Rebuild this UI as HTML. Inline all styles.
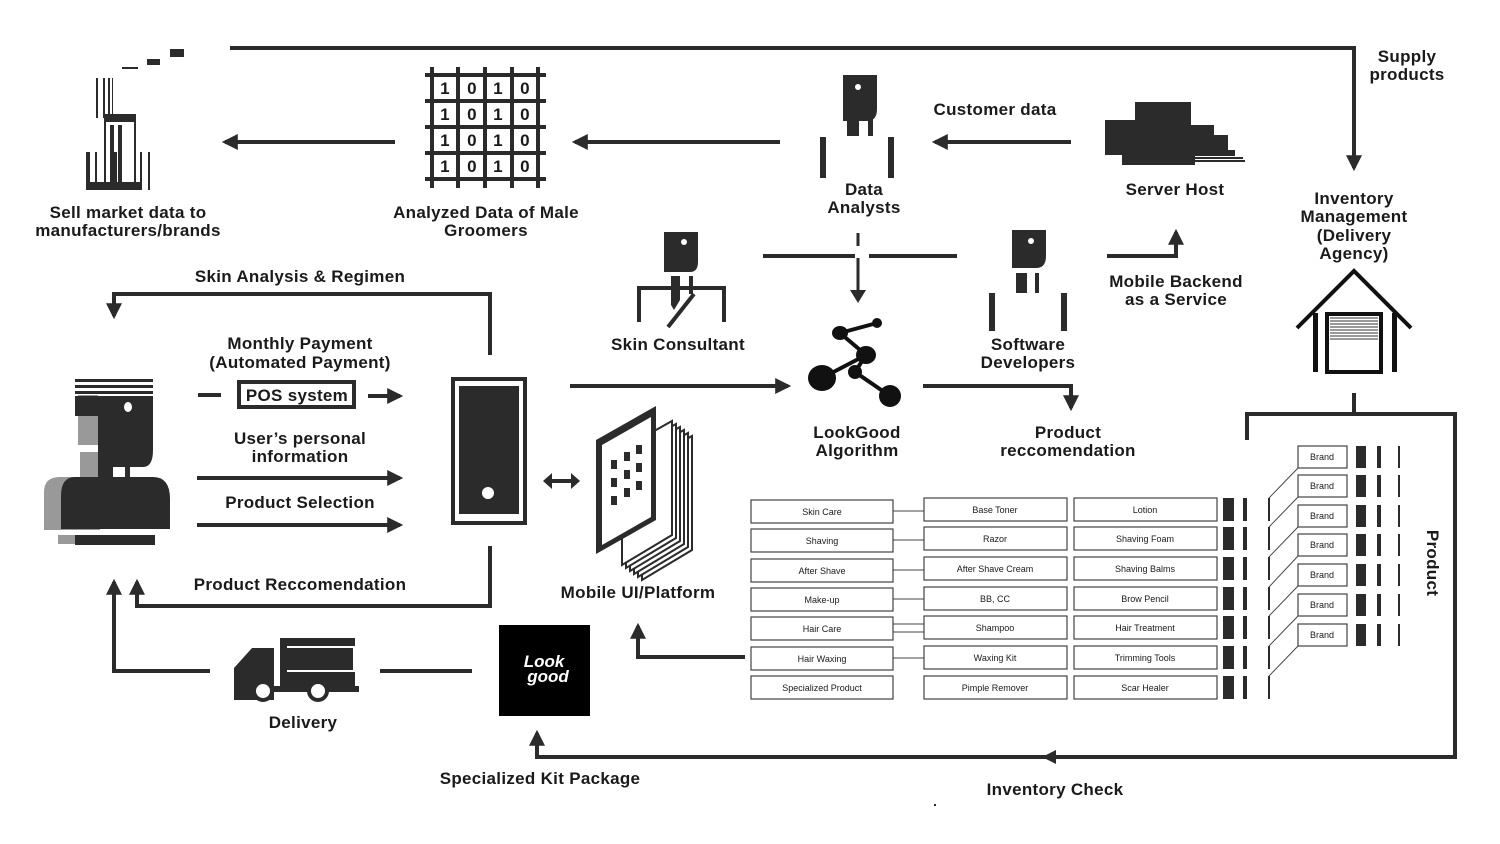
<!DOCTYPE html>
<html><head><meta charset="utf-8"><style>
html,body{margin:0;padding:0;background:#fff;}
svg{display:block;}
text{font-family:"Liberation Sans",Arial,sans-serif;fill:#1a1a1a;}
.l{font-size:17px;font-weight:bold;text-anchor:middle;letter-spacing:0.3px;}
.s{font-size:9px;text-anchor:middle;}
.ln{stroke:#2b2b2b;stroke-width:4;fill:none;}
.bx{fill:#fff;stroke:#444;stroke-width:1.2;}
</style></head><body>
<svg width="1500" height="844" viewBox="0 0 1500 844" xmlns="http://www.w3.org/2000/svg">
<defs>
<marker id="a" viewBox="0 0 10 10" refX="8" refY="5" markerWidth="4" markerHeight="4" orient="auto"><path d="M0,0L10,5L0,10z" fill="#2b2b2b"/></marker>
</defs>
<g fill="#2b2b2b">
<polyline class="ln" points="230,48 1354,48 1354,168" marker-end="url(#a)"/>
<text class="l" x="1407" y="62">Supply</text><text class="l" x="1407" y="80">products</text>
<text class="l" x="1354" y="204">Inventory</text><text class="l" x="1354" y="222">Management</text>
<text class="l" x="1354" y="241">(Delivery</text><text class="l" x="1354" y="259">Agency)</text>
<polyline points="1297,328 1354,271 1411,328" fill="none" stroke="#111" stroke-width="4"/>
<rect x="1313" y="313" width="5" height="59" fill="#111"/><rect x="1392" y="313" width="5" height="59" fill="#111"/>
<rect x="1327" y="314" width="54" height="58" fill="#fff" stroke="#111" stroke-width="4"/>
<g stroke="#333" stroke-width="1"><line x1="1330" y1="318" x2="1378" y2="318"/><line x1="1330" y1="321" x2="1378" y2="321"/><line x1="1330" y1="324" x2="1378" y2="324"/><line x1="1330" y1="327" x2="1378" y2="327"/><line x1="1330" y1="330" x2="1378" y2="330"/><line x1="1330" y1="333" x2="1378" y2="333"/><line x1="1330" y1="336" x2="1378" y2="336"/><line x1="1330" y1="339" x2="1378" y2="339"/></g>
<polyline class="ln" points="1354,393 1354,414"/>
<polyline class="ln" points="1247,440 1247,414 1455,414 1455,757 537,757 537,733" marker-end="url(#a)"/>
<path d="M1042,757l14,-7v14z"/>
<text class="l" x="1055" y="795">Inventory Check</text>
<text class="l" transform="translate(1427,563) rotate(90)">Product</text>

<rect x="170" y="49" width="14" height="8"/><rect x="147" y="59" width="13" height="6"/><rect x="122" y="67" width="16" height="2"/>
<rect x="104" y="114" width="32" height="8"/>
<g fill="none" stroke="#2b2b2b" stroke-width="2"><rect x="105" y="120" width="30" height="65"/></g>
<rect x="86" y="152" width="4" height="38"/><rect x="95" y="152" width="2" height="38"/><rect x="114" y="152" width="3" height="38"/>
<rect x="140" y="152" width="2" height="38"/><rect x="148" y="152" width="2" height="38"/><rect x="96" y="78" width="2" height="40"/><rect x="103" y="78" width="2" height="40"/><rect x="108" y="78" width="2" height="40"/><rect x="112" y="78" width="1" height="40"/>
<rect x="86" y="182" width="56" height="8"/><rect x="110" y="125" width="4" height="60"/><rect x="118" y="125" width="4" height="60"/>
<text class="l" x="128" y="218">Sell market data to</text><text class="l" x="128" y="236">manufacturers/brands</text>
<line class="ln" x1="395" y1="142" x2="225" y2="142" marker-end="url(#a)"/>
<g stroke="#2b2b2b" stroke-width="4"><line x1="432" y1="67" x2="432" y2="188"/><line x1="458" y1="67" x2="458" y2="188"/><line x1="485" y1="67" x2="485" y2="188"/><line x1="512" y1="67" x2="512" y2="188"/><line x1="538" y1="67" x2="538" y2="188"/>
<line x1="425" y1="75" x2="546" y2="75"/><line x1="425" y1="101" x2="546" y2="101"/><line x1="425" y1="127" x2="546" y2="127"/><line x1="425" y1="153" x2="546" y2="153"/><line x1="425" y1="179" x2="546" y2="179"/></g>
<g><text class="l" x="445" y="94">1</text><text class="l" x="472" y="94">0</text><text class="l" x="498" y="94">1</text><text class="l" x="525" y="94">0</text>
<text class="l" x="445" y="120">1</text><text class="l" x="472" y="120">0</text><text class="l" x="498" y="120">1</text><text class="l" x="525" y="120">0</text>
<text class="l" x="445" y="146">1</text><text class="l" x="472" y="146">0</text><text class="l" x="498" y="146">1</text><text class="l" x="525" y="146">0</text>
<text class="l" x="445" y="172">1</text><text class="l" x="472" y="172">0</text><text class="l" x="498" y="172">1</text><text class="l" x="525" y="172">0</text></g>
<text class="l" x="486" y="218">Analyzed Data of Male</text><text class="l" x="486" y="236">Groomers</text>
<line class="ln" x1="780" y1="142" x2="575" y2="142" marker-end="url(#a)"/>
<path d="M843,75h34v34q0,12 -10,12h-24z"/><circle cx="858" cy="87" r="3" fill="#fff"/>
<rect x="847" y="117" width="12" height="19"/><rect x="868" y="117" width="5" height="19"/>
<rect x="820" y="137" width="6" height="41"/><rect x="888" y="137" width="6" height="41"/>
<text class="l" x="864" y="195">Data</text><text class="l" x="864" y="213">Analysts</text>
<line class="ln" x1="1071" y1="142" x2="935" y2="142" marker-end="url(#a)"/>
<text class="l" x="995" y="115">Customer data</text>
<rect x="1135" y="102" width="56" height="25"/><rect x="1105" y="120" width="86" height="35"/><rect x="1124" y="125" width="90" height="30"/><rect x="1185" y="135" width="43" height="20"/><rect x="1122" y="150" width="73" height="15"/><rect x="1195" y="150" width="40" height="6"/><rect x="1195" y="157" width="48" height="2"/><rect x="1195" y="160" width="50" height="2"/>
<text class="l" x="1175" y="195">Server Host</text>
<path d="M664,232h34v30q0,10 -8,10h-26z"/><circle cx="684" cy="242" r="3" fill="#fff"/>
<path d="M671,276h9v24l-6,10l-3,-5z"/><rect x="689" y="276" width="4" height="18"/>
<polyline points="639,322 639,288 724,288 724,322" fill="none" stroke="#2b2b2b" stroke-width="4"/>
<line x1="694" y1="294" x2="668" y2="327" stroke="#2b2b2b" stroke-width="4"/>
<text class="l" x="678" y="350">Skin Consultant</text>
<line class="ln" x1="763" y1="256" x2="855" y2="256"/><line class="ln" x1="869" y1="256" x2="957" y2="256"/>
<line x1="858" y1="233" x2="858" y2="246" stroke="#2b2b2b" stroke-width="3"/>
<line x1="858" y1="258" x2="858" y2="296" stroke="#2b2b2b" stroke-width="3"/><path d="M850,290h16l-8,13z"/>
<path d="M1012,230h34v26q0,12 -10,12h-24z"/><circle cx="1031" cy="241" r="3" fill="#fff"/>
<rect x="1016" y="273" width="11" height="20"/><rect x="1035" y="273" width="4" height="20"/>
<rect x="989" y="293" width="6" height="38"/><rect x="1061" y="293" width="6" height="38"/>
<text class="l" x="1028" y="350">Software</text><text class="l" x="1028" y="368">Developers</text>
<polyline class="ln" points="1107,256 1176,256 1176,232" marker-end="url(#a)"/>
<text class="l" x="1176" y="287">Mobile Backend</text><text class="l" x="1176" y="305">as a Service</text>
<g stroke="#111" stroke-width="4"><line x1="877" y1="323" x2="840" y2="333"/><line x1="840" y1="333" x2="866" y2="355"/><line x1="866" y1="355" x2="822" y2="378"/><line x1="866" y1="355" x2="855" y2="372"/><line x1="855" y1="372" x2="890" y2="396"/></g>
<g fill="#111"><circle cx="877" cy="323" r="5"/><ellipse cx="840" cy="333" rx="8" ry="7"/><ellipse cx="866" cy="355" rx="10" ry="9"/><ellipse cx="822" cy="378" rx="14" ry="13"/><circle cx="855" cy="372" r="7"/><ellipse cx="890" cy="396" rx="11" ry="11"/></g>
<text class="l" x="857" y="438">LookGood</text><text class="l" x="857" y="456">Algorithm</text>
<line class="ln" x1="570" y1="386" x2="788" y2="386" marker-end="url(#a)"/>
<polyline class="ln" points="923,386 1071,386 1071,408" marker-end="url(#a)"/>
<text class="l" x="1068" y="438">Product</text><text class="l" x="1068" y="456">reccomendation</text>

<rect x="78" y="395" width="20" height="50" fill="#999"/><rect x="80" y="452" width="18" height="30" fill="#999"/>
<path d="M60,477h40v53h-56v-38q0,-15 16,-15z" fill="#999"/><rect x="58" y="535" width="18" height="9" fill="#999"/>
<rect x="75" y="379" width="78" height="3"/><rect x="75" y="385" width="78" height="3"/><rect x="75" y="391" width="78" height="3"/>
<path d="M98,396h55v54q0,17 -10,17h-45z"/><rect x="75" y="396" width="23" height="20" fill="#2b2b2b"/><ellipse cx="128" cy="407" rx="4" ry="5" fill="#fff"/>
<rect x="98" y="452" width="15" height="30"/><rect x="125" y="452" width="5" height="25"/>
<path d="M75,477h78q17,0 17,22v30h-109v-33q0,-19 14,-19z"/><rect x="75" y="535" width="80" height="10"/>
<line class="ln" x1="198" y1="395" x2="221" y2="395"/>
<rect x="239" y="382" width="115" height="25" fill="#fff" stroke="#2b2b2b" stroke-width="4"/>
<text class="l" x="297" y="401">POS system</text>
<line class="ln" x1="368" y1="396" x2="400" y2="396" marker-end="url(#a)"/>
<text class="l" x="300" y="349">Monthly Payment</text><text class="l" x="300" y="368">(Automated Payment)</text>
<text class="l" x="300" y="444">User’s personal</text><text class="l" x="300" y="462">information</text>
<line class="ln" x1="197" y1="478" x2="400" y2="478" marker-end="url(#a)"/>
<text class="l" x="300" y="508">Product Selection</text>
<line class="ln" x1="197" y1="525" x2="400" y2="525" marker-end="url(#a)"/>
<text class="l" x="300" y="282">Skin Analysis &amp; Regimen</text>
<polyline class="ln" points="490,355 490,294 114,294 114,316" marker-end="url(#a)"/>
<text class="l" x="300" y="590">Product Reccomendation</text>
<polyline class="ln" points="490,546 490,606 137,606 137,582" marker-end="url(#a)"/>
<polyline class="ln" points="210,671 114,671 114,582" marker-end="url(#a)"/>
<rect x="451" y="377" width="76" height="148"/><rect x="455" y="381" width="68" height="140" fill="#fff"/><rect x="459" y="386" width="60" height="128"/>
<circle cx="488" cy="493" r="6" fill="#fff"/>
<line x1="548" y1="481" x2="575" y2="481" stroke="#2b2b2b" stroke-width="4"/><path d="M543,481l9,-8v16z M580,481l-9,-8v16z"/>
<g fill="#fff" stroke="#2b2b2b" stroke-width="2">
<path d="M604,446l50,-28v114l-50,30z" transform="translate(38,18)"/>
<path d="M604,446l50,-28v114l-50,30z" transform="translate(34,15)"/>
<path d="M604,446l50,-28v114l-50,30z" transform="translate(30,12)"/>
<path d="M604,446l50,-28v114l-50,30z" transform="translate(26,9)"/>
<path d="M604,446l50,-28v114l-50,30z" transform="translate(22,6)"/>
<path d="M604,446l50,-28v114l-50,30z" transform="translate(18,3)"/>
</g>
<path d="M596,440l60,-34v114l-60,34z" fill="#2b2b2b"/><path d="M602,445l49,-28v100l-49,28z" fill="#fff"/>
<g><rect x="611" y="460" width="6" height="9"/><rect x="624" y="452" width="6" height="9"/><rect x="636" y="445" width="6" height="9"/><rect x="611" y="478" width="6" height="9"/><rect x="624" y="470" width="6" height="9"/><rect x="636" y="463" width="6" height="9"/><rect x="611" y="496" width="6" height="9"/><rect x="624" y="488" width="6" height="9"/><rect x="636" y="481" width="6" height="9"/></g>
<text class="l" x="638" y="598">Mobile UI/Platform</text>
<polyline class="ln" points="745,657 638,657 638,626" marker-end="url(#a)"/>
<path d="M234,668l18,-20h22v52h-40z"/><rect x="280" y="638" width="75" height="48"/><rect x="287" y="646" width="68" height="26" fill="#fff"/><rect x="287" y="648" width="66" height="22" fill="#2b2b2b"/>
<rect x="234" y="686" width="125" height="6"/>
<circle cx="263" cy="691" r="9" fill="#fff" stroke="#2b2b2b" stroke-width="4"/><circle cx="318" cy="691" r="9" fill="#fff" stroke="#2b2b2b" stroke-width="4"/>
<text class="l" x="303" y="728">Delivery</text>
<line class="ln" x1="380" y1="671" x2="472" y2="671"/>
<rect x="499" y="625" width="91" height="91" fill="#000"/>
<text x="544" y="667" font-family="Liberation Serif,serif" font-style="italic" font-weight="bold" font-size="17" text-anchor="middle" style="fill:#fff">Look</text>
<text x="548" y="682" font-family="Liberation Serif,serif" font-style="italic" font-weight="bold" font-size="17" text-anchor="middle" style="fill:#fff">good</text>
<text class="l" x="540" y="784">Specialized Kit Package</text>

<g>
<rect class="bx" x="751" y="500" width="142" height="23"/><rect class="bx" x="751" y="529" width="142" height="23"/><rect class="bx" x="751" y="559" width="142" height="23"/><rect class="bx" x="751" y="588" width="142" height="23"/><rect class="bx" x="751" y="617" width="142" height="23"/><rect class="bx" x="751" y="647" width="142" height="23"/><rect class="bx" x="751" y="676" width="142" height="23"/>
<rect class="bx" x="924" y="498" width="143" height="23"/><rect class="bx" x="924" y="527" width="143" height="23"/><rect class="bx" x="924" y="557" width="143" height="23"/><rect class="bx" x="924" y="587" width="143" height="23"/><rect class="bx" x="924" y="616" width="143" height="23"/><rect class="bx" x="924" y="646" width="143" height="23"/><rect class="bx" x="924" y="676" width="143" height="23"/>
<rect class="bx" x="1074" y="498" width="143" height="23"/><rect class="bx" x="1074" y="527" width="143" height="23"/><rect class="bx" x="1074" y="557" width="143" height="23"/><rect class="bx" x="1074" y="587" width="143" height="23"/><rect class="bx" x="1074" y="616" width="143" height="23"/><rect class="bx" x="1074" y="646" width="143" height="23"/><rect class="bx" x="1074" y="676" width="143" height="23"/>
<g stroke="#444" stroke-width="1"><line x1="893" y1="511" x2="924" y2="511"/><line x1="893" y1="540" x2="924" y2="540"/><line x1="893" y1="570" x2="924" y2="570"/><line x1="893" y1="599" x2="924" y2="599"/><line x1="893" y1="624" x2="924" y2="624"/><line x1="893" y1="632" x2="924" y2="632"/><line x1="893" y1="658" x2="924" y2="658"/></g>
<text class="s" x="822" y="515">Skin Care</text><text class="s" x="822" y="544">Shaving</text><text class="s" x="822" y="574">After Shave</text><text class="s" x="822" y="603">Make-up</text><text class="s" x="822" y="632">Hair Care</text><text class="s" x="822" y="662">Hair Waxing</text><text class="s" x="822" y="691">Specialized Product</text>
<text class="s" x="995" y="513">Base Toner</text><text class="s" x="995" y="542">Razor</text><text class="s" x="995" y="572">After Shave Cream</text><text class="s" x="995" y="602">BB, CC</text><text class="s" x="995" y="631">Shampoo</text><text class="s" x="995" y="661">Waxing Kit</text><text class="s" x="995" y="691">Pimple Remover</text>
<text class="s" x="1145" y="513">Lotion</text><text class="s" x="1145" y="542">Shaving Foam</text><text class="s" x="1145" y="572">Shaving Balms</text><text class="s" x="1145" y="602">Brow Pencil</text><text class="s" x="1145" y="631">Hair Treatment</text><text class="s" x="1145" y="661">Trimming Tools</text><text class="s" x="1145" y="691">Scar Healer</text>
</g>
<g>
<rect x="1223" y="498" width="11" height="23"/><rect x="1223" y="527" width="11" height="23"/><rect x="1223" y="557" width="11" height="23"/><rect x="1223" y="587" width="11" height="23"/><rect x="1223" y="616" width="11" height="23"/><rect x="1223" y="646" width="11" height="23"/><rect x="1223" y="676" width="11" height="23"/>
<rect x="1243" y="498" width="4" height="23"/><rect x="1243" y="527" width="4" height="23"/><rect x="1243" y="557" width="4" height="23"/><rect x="1243" y="587" width="4" height="23"/><rect x="1243" y="616" width="4" height="23"/><rect x="1243" y="646" width="4" height="23"/><rect x="1243" y="676" width="4" height="23"/>
<rect x="1268" y="498" width="2" height="23"/><rect x="1268" y="527" width="2" height="23"/><rect x="1268" y="557" width="2" height="23"/><rect x="1268" y="587" width="2" height="23"/><rect x="1268" y="616" width="2" height="23"/><rect x="1268" y="646" width="2" height="23"/><rect x="1268" y="676" width="2" height="23"/>
</g>
<g stroke="#444" stroke-width="1"><line x1="1269" y1="498" x2="1298" y2="468"/><line x1="1269" y1="527" x2="1298" y2="497"/><line x1="1269" y1="557" x2="1298" y2="527"/><line x1="1269" y1="587" x2="1298" y2="556"/><line x1="1269" y1="616" x2="1298" y2="586"/><line x1="1269" y1="646" x2="1298" y2="616"/><line x1="1269" y1="676" x2="1298" y2="646"/></g>
<g>
<rect class="bx" x="1298" y="446" width="49" height="22"/><rect class="bx" x="1298" y="475" width="49" height="22"/><rect class="bx" x="1298" y="505" width="49" height="22"/><rect class="bx" x="1298" y="534" width="49" height="22"/><rect class="bx" x="1298" y="564" width="49" height="22"/><rect class="bx" x="1298" y="594" width="49" height="22"/><rect class="bx" x="1298" y="624" width="49" height="22"/>
<text class="s" x="1322" y="460">Brand</text><text class="s" x="1322" y="489">Brand</text><text class="s" x="1322" y="519">Brand</text><text class="s" x="1322" y="548">Brand</text><text class="s" x="1322" y="578">Brand</text><text class="s" x="1322" y="608">Brand</text><text class="s" x="1322" y="638">Brand</text>
<rect x="1356" y="446" width="10" height="22"/><rect x="1356" y="475" width="10" height="22"/><rect x="1356" y="505" width="10" height="22"/><rect x="1356" y="534" width="10" height="22"/><rect x="1356" y="564" width="10" height="22"/><rect x="1356" y="594" width="10" height="22"/><rect x="1356" y="624" width="10" height="22"/>
<rect x="1377" y="446" width="4" height="22"/><rect x="1377" y="475" width="4" height="22"/><rect x="1377" y="505" width="4" height="22"/><rect x="1377" y="534" width="4" height="22"/><rect x="1377" y="564" width="4" height="22"/><rect x="1377" y="594" width="4" height="22"/><rect x="1377" y="624" width="4" height="22"/>
<rect x="1398" y="446" width="2" height="22"/><rect x="1398" y="475" width="2" height="22"/><rect x="1398" y="505" width="2" height="22"/><rect x="1398" y="534" width="2" height="22"/><rect x="1398" y="564" width="2" height="22"/><rect x="1398" y="594" width="2" height="22"/><rect x="1398" y="624" width="2" height="22"/>
</g>
<rect x="934" y="804" width="2" height="2"/>
</g>
</svg>
</body></html>
